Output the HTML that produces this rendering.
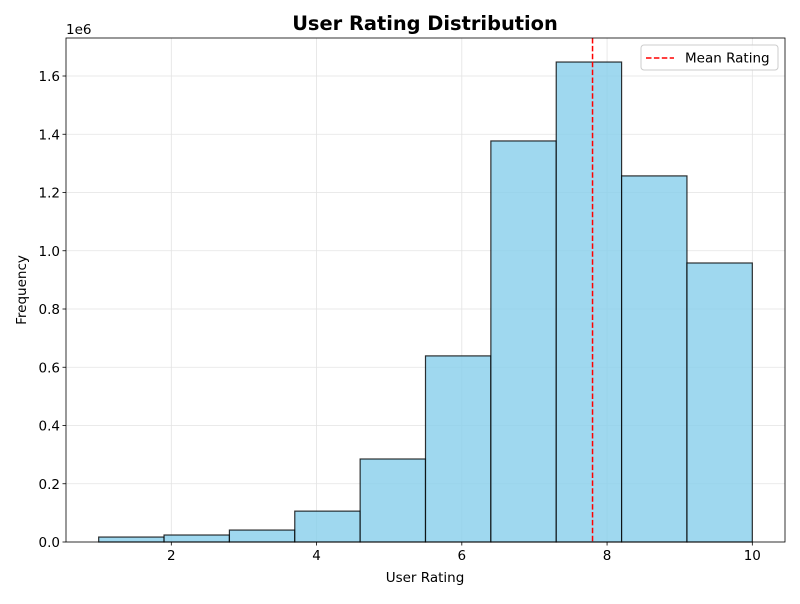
<!DOCTYPE html>
<html><head><meta charset="utf-8"><style>
body{margin:0;background:#fff;font-family:"DejaVu Sans","Liberation Sans",sans-serif;}
svg text{font-family:"DejaVu Sans","Liberation Sans",sans-serif;}
</style></head><body>
<svg id="c" width="800" height="600" xmlns="http://www.w3.org/2000/svg">
<rect width="800" height="600" fill="#fff"/>
</svg>
<script>
const binEdges=[1,1.9,2.8,3.7,4.6,5.5,6.4,7.3,8.2,9.1,10];
const counts=[0.017,0.024,0.041,0.106,0.285,0.639,1.377,1.648,1.257,0.958];
const xTicks=[2,4,6,8,10];
const yTicks=[0,0.2,0.4,0.6,0.8,1.0,1.2,1.4,1.6];
const meanRating=[7.8];
const L=66,R=785,T=38,B=542;
const xmin=0.55,xmax=10.45,ymax=1.7305;
const sx=v=>L+(v-xmin)/(xmax-xmin)*(R-L);
const sy=v=>B-v/ymax*(B-T);
const svg=document.getElementById('c');
const NS='http://www.w3.org/2000/svg';
function mk(tag,attrs,parent){const e=document.createElementNS(NS,tag);for(const k in attrs)e.setAttribute(k,attrs[k]);(parent||svg).appendChild(e);return e;}
xTicks.forEach(t=>{const g=mk('line',{x1:sx(t),x2:sx(t),y1:T,y2:B,stroke:'#e3e3e3','stroke-width':0.8});

});
yTicks.forEach(t=>{const g=mk('line',{x1:L,x2:R,y1:sy(t),y2:sy(t),stroke:'#e3e3e3','stroke-width':0.8});

});
counts.forEach((c,i)=>{const x0=sx(binEdges[i]),x1=sx(binEdges[i+1]);
const b=mk('rect',{x:x0,y:sy(c),width:x1-x0,height:B-sy(c),fill:'rgba(135,206,235,0.8)',stroke:'rgba(0,0,0,0.8)','stroke-width':1.2});

});
const m=mk('line',{x1:sx(meanRating[0]),x2:sx(meanRating[0]),y1:T,y2:B,stroke:'#ff0000','stroke-width':1.5,'stroke-dasharray':'5.5,2.4'});


const f=mk('rect',{x:L,y:T,width:R-L,height:B-T,fill:'none',stroke:'#000','stroke-width':0.8});


xTicks.forEach(t=>{mk('line',{x1:sx(t),x2:sx(t),y1:B,y2:B+3.5,stroke:'#000','stroke-width':0.8});
const tx=mk('text',{x:sx(t),y:B+18,'font-size':13.5,'text-anchor':'middle',fill:'#000'});tx.textContent=t;

});
yTicks.forEach(t=>{mk('line',{x1:L-3.5,x2:L,y1:sy(t),y2:sy(t),stroke:'#000','stroke-width':0.8});
const tx=mk('text',{x:L-6,y:sy(t)+5,'font-size':13.5,'text-anchor':'end',fill:'#000'});tx.textContent=t.toFixed(1);

});
</script>
<svg width="800" height="600" style="position:absolute;left:0;top:0" xmlns="http://www.w3.org/2000/svg">
<text x="66" y="34" font-size="13.5">1e6</text>
<text x="425" y="30" font-size="19.4" font-weight="bold" text-anchor="middle">User Rating Distribution</text>
<text x="425" y="582" font-size="13.5" text-anchor="middle">User Rating</text>
<text x="26" y="290" font-size="13.5" text-anchor="middle" transform="rotate(-90 26 290)">Frequency</text>
<g>
<rect x="641" y="45" width="137" height="25" rx="3" fill="#fff" fill-opacity="0.8" stroke="#ccc"/>
<line x1="646" y1="58" x2="674" y2="58" stroke="#ff0000" stroke-width="1.5" stroke-dasharray="5.5,2.4"/>
<text x="685" y="62.5" font-size="13.5">Mean Rating</text>
</g>
</svg>
</body></html>
